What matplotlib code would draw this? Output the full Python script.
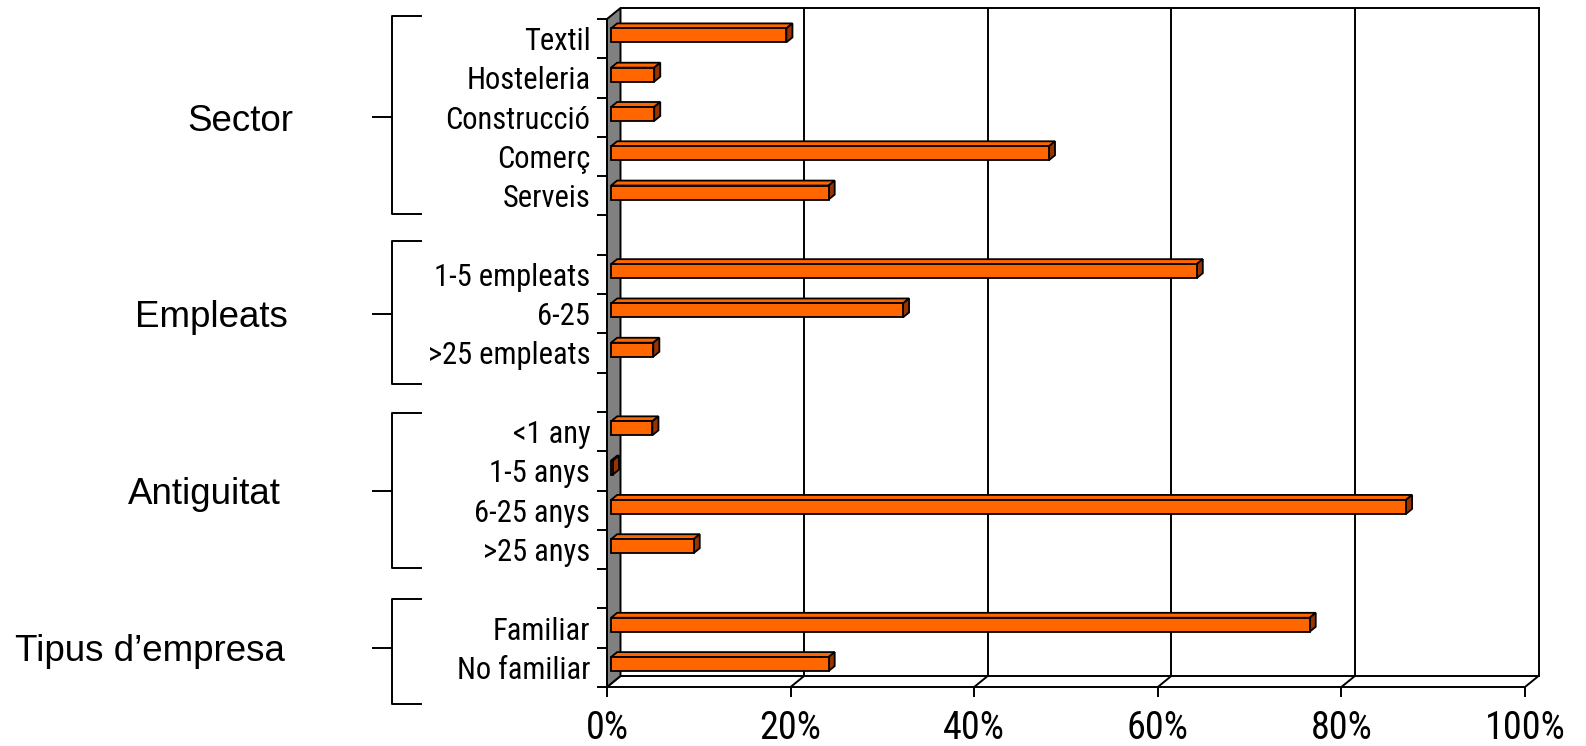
import matplotlib
matplotlib.use('Agg')
import matplotlib.pyplot as plt
from matplotlib.patches import Polygon, Rectangle
from matplotlib import transforms

# percentatges per grup
groups = ['Sector', 'Empleats', 'Antiguitat', 'Tipus d\u2019empresa']
sector_cats = ['Textil', 'Hosteleria', 'Construcció', 'Comerç', 'Serveis']
sector_vals = [19.1, 4.7, 4.7, 47.7, 23.7]
empleats_cats = ['1-5 empleats', '6-25', '>25 empleats']
empleats_vals = [63.8, 31.8, 4.6]
antiguitat_cats = ['<1 any', '1-5 anys', '6-25 anys', '>25 anys']
antiguitat_vals = [4.5, 0.2, 86.6, 9.0]
tipus_cats = ['Familiar', 'No familiar']
tipus_vals = [76.1, 23.7]
xticks = [0, 20, 40, 60, 80, 100]

plt.rcParams['font.family'] = ['Roboto Condensed', 'Liberation Sans', 'DejaVu Sans']

# una fila buida entre grups
labels, vals, spans = [], [], []
for cats, v in [(sector_cats, sector_vals), (empleats_cats, empleats_vals),
                (antiguitat_cats, antiguitat_vals), (tipus_cats, tipus_vals)]:
    if labels:
        labels.append('')
        vals.append(None)
    start = len(labels)
    labels += cats
    vals += v
    spans.append((start, len(labels)))
n = len(labels)

W, H = 1586, 746
fig = plt.figure(figsize=(W / 100, H / 100), dpi=100)
fig.patch.set_facecolor('white')
x0, x1, ytop, ybot = 607, 1525, 19, 687
ax = fig.add_axes([x0 / W, 1 - ybot / H, (x1 - x0) / W, (ybot - ytop) / H])
ax.set_xlim(0, 100)
ax.set_ylim(n, 0)
ax.patch.set_visible(False)

px = 100 / (x1 - x0)
py = n / (ybot - ytop)


def depth(d):
    # desplaçament de profunditat (0 = davant, 1 = paret del fons)
    return 13.5 * d * px, -11 * d * py


lw = 1.4
ddx, ddy = depth(1)
kw = dict(color='k', lw=lw, clip_on=False, zorder=1, solid_capstyle='projecting')

# paret del fons i terra
for x in xticks[1:-1]:
    ax.plot([x + ddx, x + ddx], [ddy, n + ddy], **kw)
ax.plot([ddx, 100 + ddx], [ddy, ddy], **kw)
ax.plot([100 + ddx, 100 + ddx], [ddy, n + ddy], **kw)
ax.plot([ddx, 100 + ddx], [n + ddy, n + ddy], **kw)
for x in xticks:
    ax.plot([x, x + ddx], [n, n + ddy], **kw)

# paret lateral grisa
ax.add_patch(Polygon([(0, 0), (ddx, ddy), (ddx, n + ddy), (0, n)], closed=True,
                     fc='#808080', ec='k', lw=lw, clip_on=False, zorder=2))

# barres 3D
h = 0.356
fdx, fdy = depth(0.3)
bdx, bdy = depth(0.75)
for i, v in enumerate(vals):
    if v is None:
        continue
    yt = i + 0.5 - h / 2
    yb = i + 0.5 + h / 2
    ax.add_patch(Polygon([(fdx, yt + fdy), (v + fdx, yt + fdy), (v + bdx, yt + bdy), (bdx, yt + bdy)],
                         closed=True, fc='#FF6600', ec='k', lw=1.3, clip_on=False, zorder=3))
    ax.add_patch(Polygon([(v + fdx, yt + fdy), (v + bdx, yt + bdy), (v + bdx, yb + bdy), (v + fdx, yb + fdy)],
                         closed=True, fc='#993300', ec='k', lw=1.3, clip_on=False, zorder=3))
    ax.add_patch(Rectangle((fdx, yt + fdy), v, h, fc='#FF6600', ec='k', lw=1.3,
                           clip_on=False, zorder=4))

# eixos
for s in ['top', 'right']:
    ax.spines[s].set_visible(False)
for s in ['left', 'bottom']:
    ax.spines[s].set_linewidth(lw)
    ax.spines[s].set_zorder(2.5)

ax.set_xticks(xticks, [f'{t}%' for t in xticks])
ax.tick_params(axis='x', length=7.2, width=lw, pad=9.5, labelsize=27.5)
ax.set_yticks(range(n + 1))
ax.set_yticklabels([])
ax.set_yticks([i + 0.5 for i in range(n)], labels, minor=True)
ax.tick_params(axis='y', which='major', length=7.2, width=lw)
ax.tick_params(axis='y', which='minor', length=0, pad=12, labelsize=22)

# claudàtors i noms de grup
tr = transforms.blended_transform_factory(fig.transFigure, ax.transData)
bracket_ext = [(-0.08, 4.96), (5.65, 9.29), (10.03, 13.97), (14.76, 17.43)]
group_x = [240, 211, 204, 150]
bx, bx2, bx0 = 392 / W, 421 / W, 373 / W
for g, (s, e), (a, b), gx in zip(groups, spans, bracket_ext, group_x):
    yc = (s + e) / 2
    lk = dict(color='k', lw=lw, transform=tr, clip_on=False)
    ax.plot([bx2, bx, bx, bx2], [a, a, b, b], **lk)
    ax.plot([bx0, bx], [yc, yc], **lk)
    ax.text(gx / W, yc, g, transform=tr, ha='center', va='center_baseline',
            fontsize=26.5, family=['Liberation Sans', 'DejaVu Sans'])

fig.savefig('out.png', dpi=100)
